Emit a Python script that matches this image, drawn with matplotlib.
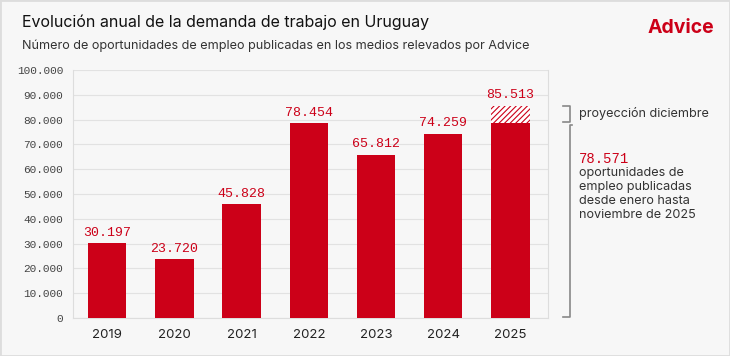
import matplotlib
matplotlib.use("Agg")
import matplotlib.pyplot as plt
from matplotlib.patches import Rectangle

years = ["2019", "2020", "2021", "2022", "2023", "2024", "2025"]
values = [30197, 23720, 45828, 78454, 65812, 74259, 78571]
projection_2025 = 85513
value_labels = ["30.197", "23.720", "45.828", "78.454", "65.812", "74.259", "85.513"]
yticks = [0, 10000, 20000, 30000, 40000, 50000, 60000, 70000, 80000, 90000, 100000]
ytick_labels = ["0", "10.000", "20.000", "30.000", "40.000", "50.000", "60.000",
                "70.000", "80.000", "90.000", "100.000"]
note_lines = ["oportunidades de", "empleo publicadas", "desde enero hasta",
              "noviembre de 2025"]

RED = "#cc0018"
BG = "#f7f7f7"
SANS = ["Inter", "DejaVu Sans"]
MONO = ["Liberation Mono", "DejaVu Sans Mono"]
plt.rcParams["hatch.linewidth"] = 0.8

fig = plt.figure(figsize=(7.3, 3.56), dpi=100, facecolor=BG)
W, H = 730, 356
ax = fig.add_axes([73 / W, 1 - 318 / H, (548 - 73) / W, (318 - 70) / H])
ax.set_facecolor(BG)

x = list(range(len(years)))
ax.bar(x, values, width=0.57, color=RED, zorder=3)
# december projection on top of the 2025 bar
ax.bar([x[-1]], [projection_2025 - values[-1]], bottom=[values[-1]], width=0.57,
       color="white", edgecolor=RED, hatch="//////", lw=0, zorder=3)

tops = values[:-1] + [projection_2025]
for xi, t, lab in zip(x, tops, value_labels):
    ax.text(xi, t + 1800, lab, ha="center", va="bottom", color=RED,
            fontsize=9.5, family=MONO)

ax.set_ylim(0, 100000)
ax.set_xlim(-0.51, 6.56)
ax.set_yticks(yticks)
ax.set_yticklabels(ytick_labels, family=MONO, fontsize=8, color="#444444")
ax.set_xticks(x)
ax.set_xticklabels(years, family=SANS, fontsize=9.5, color="#222222")
ax.tick_params(length=0, axis="y", pad=7)
ax.tick_params(length=0, axis="x", pad=8)
ax.grid(axis="y", color="#e2e2e2", lw=0.8, zorder=0)
for s in ["left", "right", "bottom"]:
    ax.spines[s].set_color("#dddddd")
ax.spines["top"].set_visible(False)

# brackets on the right
def px(xp, yp):
    return xp / W, 1 - yp / H

bk = dict(color="#888888", lw=1.2, transform=fig.transFigure, clip_on=False)
fig.add_artist(plt.Line2D(*zip(px(563, 106), px(570, 106), px(570, 122), px(563, 122)), **bk))
fig.add_artist(plt.Line2D(*zip(px(572, 125), px(570, 125), px(570, 317), px(563, 317)), **bk))

fig.text(579 / W, 1 - 114 / H, "proyección diciembre", family=SANS, fontsize=9.1,
         color="#333333", va="center")
fig.text(579 / W, 1 - 159 / H, "78.571", family=MONO, fontsize=10, color=RED,
         va="center")
for i, line in enumerate(note_lines):
    fig.text(579 / W, 1 - (173 + 14 * i) / H, line, family=SANS, fontsize=9.1,
             color="#333333", va="center")

fig.text(22 / W, 1 - 22 / H, "Evolución anual de la demanda de trabajo en Uruguay",
         family=SANS, fontsize=11.5, color="#111111", va="center")
fig.text(22 / W, 1 - 46 / H,
         "Número de oportunidades de empleo publicadas en los medios relevados por Advice",
         family=SANS, fontsize=9.1, color="#333333", va="center")
fig.text(714 / W, 1 - 28 / H, "Advice", family=SANS, fontsize=14, fontweight="bold",
         color=RED, ha="right", va="center")

fig.add_artist(Rectangle((0, 0), 1, 1, transform=fig.transFigure, fill=False,
                         edgecolor="#dddddd", lw=2))

fig.savefig("out.png", dpi=100, facecolor=BG)
